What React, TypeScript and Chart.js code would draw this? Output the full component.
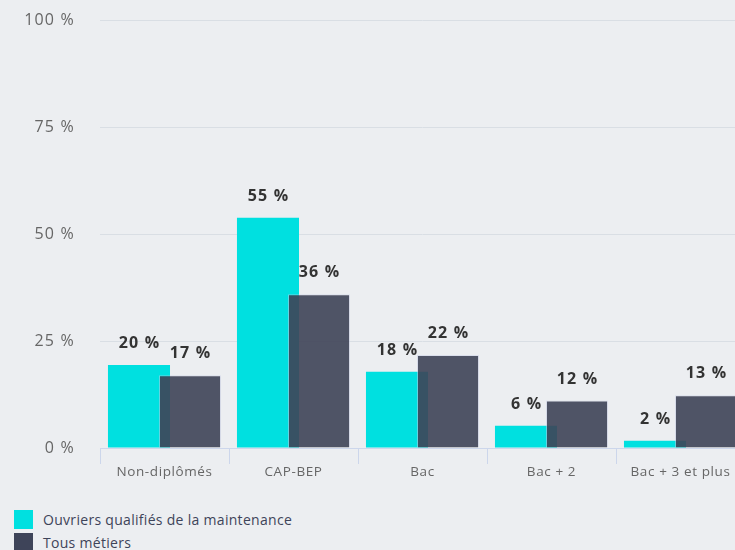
import React, { useEffect, useRef } from "react";
import { Chart, registerables } from "chart.js";

Chart.register(...registerables);

const categories = ["Non-diplômés", "CAP-BEP", "Bac", "Bac + 2", "Bac + 3 et plus"];
const maintenanceValues = [19.4, 53.8, 17.8, 5.2, 1.7];
const allJobsValues = [17.0, 35.9, 21.7, 11.1, 12.3];
const maintenanceLabels = ["20 %", "55 %", "18 %", "6 %", "2 %"];
const allJobsLabels = ["17 %", "36 %", "22 %", "12 %", "13 %"];
const yTicks = [0, 25, 50, 75, 100];
const seriesNames = ["Ouvriers qualifiés de la maintenance", "Tous métiers"];

const BG = "#eceef1";
const CYAN = "#00e0e0";
const DARK = "rgba(62,66,87,0.9)";
const DARK_SOLID = "#3e4459";
const FONT = "'Open Sans', sans-serif";

function spaceLabels(spacing: string) {
  return (scale: any) => {
    if (scale._spaced) return;
    const orig = scale.drawLabels.bind(scale);
    scale.drawLabels = (area: any) => {
      const ctx = scale.ctx;
      ctx.save();
      ctx.letterSpacing = spacing;
      orig(area);
      ctx.restore();
    };
    scale._spaced = true;
  };
}

const drawPlugin = {
  id: "customDraw",
  beforeDatasetsDraw(chart: any) {
    // draw datasets in index order so the second series sits on top
    const metas = chart
      .getSortedVisibleDatasetMetas()
      .slice()
      .sort((a: any, b: any) => a.index - b.index);
    metas.forEach((meta: any) => meta.controller.draw());
    return false;
  },
  afterDraw(chart: any) {
    const ctx = chart.ctx;
    ctx.save();
    ctx.letterSpacing = "1.2px";
    ctx.font = `bold 16px ${FONT}`;
    ctx.fillStyle = "#333333";
    ctx.textAlign = "center";
    ctx.textBaseline = "middle";
    chart.data.datasets.forEach((ds: any, di: number) => {
      const meta = chart.getDatasetMeta(di);
      meta.data.forEach((el: any, i: number) => {
        ctx.fillText(ds.valueLabels[i], el.x + 0.6, el.y - 21.5);
      });
    });
    ctx.restore();
  },
};

export default function App() {
  const ref = useRef<HTMLCanvasElement>(null);
  useEffect(() => {
    if (!ref.current) return;
    const chart = new Chart(ref.current, {
      type: "bar",
      data: {
        labels: categories,
        datasets: [
          {
            label: seriesNames[0],
            data: maintenanceValues,
            backgroundColor: CYAN,
            valueLabels: maintenanceLabels,
          } as any,
          {
            label: seriesNames[1],
            data: allJobsValues,
            backgroundColor: DARK,
            borderColor: "rgba(200,205,230,0.5)",
            borderWidth: 1,
            valueLabels: allJobsLabels,
          } as any,
        ],
      },
      options: {
        animation: false,
        responsive: false,
        maintainAspectRatio: false,
        categoryPercentage: 0.791,
        barPercentage: 1.216,
        layout: { padding: { top: 20, right: 0, left: 0, bottom: 0 } },
        plugins: {
          legend: { display: false },
          tooltip: { enabled: false },
        },
        scales: {
          x: {
            grid: {
              offset: true,
              drawOnChartArea: false,
              drawTicks: true,
              tickLength: 16,
              color: "#ccd6eb",
            },
            border: { display: true, color: "#ccd6eb" },
            ticks: {
              color: "#666666",
              font: { family: FONT, size: 13.5 },
              padding: 0,
              maxRotation: 0,
            },
            afterFit: (scale: any) => {
              scale.height = 52;
            },
            afterUpdate: spaceLabels("0.6px"),
          },
          y: {
            min: 0,
            max: 100,
            afterBuildTicks: (scale: any) => {
              scale.ticks = yTicks.map((v) => ({ value: v }));
            },
            grid: {
              drawTicks: true,
              tickLength: 24,
              tickColor: "rgba(0,0,0,0)",
              color: "#d9dee4",
            },
            border: { display: false },
            ticks: {
              color: "#666666",
              font: { family: FONT, size: 16 },
              padding: 1,
              callback: (v: any) => `${v} %`,
            },
            afterFit: (scale: any) => {
              scale.width = 100;
            },
            afterUpdate: spaceLabels("1.2px"),
          },
        },
      },
      plugins: [drawPlugin],
    });
    return () => chart.destroy();
  }, []);

  return (
    <div
      style={{
        position: "fixed",
        left: 0,
        top: 0,
        width: 735,
        height: 550,
        overflow: "hidden",
        background: BG,
        fontFamily: FONT,
      }}
    >
      <canvas ref={ref} width={745} height={500} style={{ display: "block", width: 745, height: 500 }} />
      <div style={{ position: "absolute", left: 14, top: 508 }}>
        {seriesNames.map((name, i) => (
          <div key={name} style={{ display: "flex", alignItems: "center", height: 23 }}>
            <span
              style={{
                display: "inline-block",
                width: 19,
                height: 19,
                background: i === 0 ? CYAN : DARK_SOLID,
                marginRight: 10,
              }}
            />
            <span style={{ fontSize: 14, letterSpacing: "0.3px", color: "#3e4459" }}>{name}</span>
          </div>
        ))}
      </div>
    </div>
  );
}
